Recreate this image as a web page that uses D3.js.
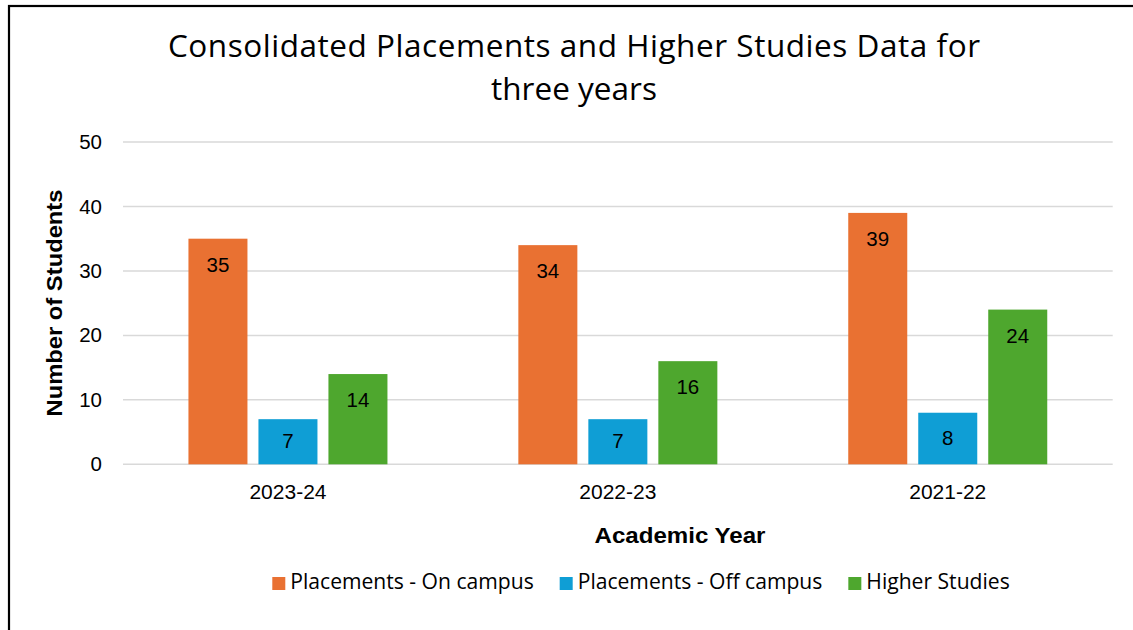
<!DOCTYPE html>
<html>
<head>
<meta charset="utf-8">
<script src="https://cdn.jsdelivr.net/npm/d3@7"></script>
<style>
  body { margin: 0; background: #fff; }
  svg text { fill: #000; }
</style>
</head>
<body>
<div id="chart"></div>
<script>
// data
let years = ["2023-24", "2022-23", "2021-22"];
let seriesNames = ["Placements - On campus", "Placements - Off campus", "Higher Studies"];
let onCampus = [35, 34, 39];
let offCampus = [7, 7, 8];
let higherStudies = [14, 16, 24];
let yTicks = [0, 10, 20, 30, 40, 50];
let colors = ["#E97132", "#0F9ED5", "#4EA72E"];

let seriesValues = [onCampus, offCampus, higherStudies];

var width = 1133, height = 630;
var plot = {left: 123, right: 1112.7, top: 142, bottom: 464.3};

var svg = d3.select("#chart")
  .append("svg")
    .attr("width", width)
    .attr("height", height);

// chart frame (runs off the right and bottom of the picture)
svg.append("rect")
  .attr("x", 9).attr("y", 6)
  .attr("width", 1140).attr("height", 640)
  .attr("fill", "none")
  .attr("stroke", "#000")
  .attr("stroke-width", 2.2);

// title
var title = svg.append("text")
  .attr("text-anchor", "middle")
  .style("font-family", "'Open Sans', sans-serif")
  .style("font-size", "31.5px");
title.append("tspan").attr("x", 574).attr("y", 57)
  .attr("textLength", 812).attr("lengthAdjust", "spacing")
  .text("Consolidated Placements and Higher Studies Data for");
title.append("tspan").attr("x", 574).attr("y", 100)
  .attr("textLength", 166).attr("lengthAdjust", "spacing")
  .text("three years");

var y = d3.scaleLinear()
  .domain([0, 50])
  .range([plot.bottom, plot.top]);

var x0 = d3.scaleBand()
  .domain(years)
  .range([plot.left, plot.right]);

var groupPad = (x0.bandwidth() - 199) / 2;
var x1 = d3.scaleBand()
  .domain(seriesNames)
  .range([groupPad, x0.bandwidth() - groupPad])
  .paddingInner(0.157);

// gridlines
svg.append("g")
  .selectAll("line")
  .data(yTicks)
  .enter()
  .append("line")
    .attr("x1", plot.left).attr("x2", plot.right)
    .attr("y1", function(d) { return y(d); })
    .attr("y2", function(d) { return y(d); })
    .attr("stroke", "#d9d9d9")
    .attr("stroke-width", 1.5);

// Y axis labels
var yAxis = svg.append("g")
  .attr("transform", "translate(" + (plot.left + 1) + ",0)")
  .call(d3.axisLeft(y).tickValues(yTicks).tickSize(0).tickPadding(22));
yAxis.select(".domain").remove();
yAxis.selectAll("text")
  .style("font-family", "'Liberation Sans', Arial, sans-serif")
  .style("font-size", "20.5px")
  .attr("fill", "#000");

// X axis labels
var xAxis = svg.append("g")
  .attr("transform", "translate(0," + plot.bottom + ")")
  .call(d3.axisBottom(x0).tickSize(0).tickPadding(20));
xAxis.select(".domain").remove();
xAxis.selectAll("text")
  .style("font-family", "'Liberation Sans', Arial, sans-serif")
  .style("font-size", "21px")
  .attr("fill", "#000");

// flatten for bars
var data = [];
years.forEach(function(yr, i) {
  seriesNames.forEach(function(s, j) {
    data.push({year: yr, series: s, value: seriesValues[j][i], color: colors[j]});
  });
});

// Bars
var groups = svg.selectAll(".bar")
  .data(data)
  .enter()
  .append("g")
    .attr("class", "bar")
    .attr("transform", function(d) { return "translate(" + (x0(d.year) + x1(d.series)) + ",0)"; });

groups.append("rect")
  .attr("y", function(d) { return y(d.value); })
  .attr("width", x1.bandwidth())
  .attr("height", function(d) { return plot.bottom - y(d.value); })
  .attr("fill", function(d) { return d.color; });

// value labels, inside end (centred when the bar is short)
groups.append("text")
  .attr("x", x1.bandwidth() / 2)
  .attr("y", function(d) {
    var top = y(d.value), mid = (top + plot.bottom) / 2;
    return Math.min(top + 33, mid + 6);
  })
  .attr("text-anchor", "middle")
  .style("font-family", "'Liberation Sans', Arial, sans-serif")
  .style("font-size", "20.5px")
  .text(function(d) { return d.value; });

// axis titles
svg.append("text")
  .attr("transform", "translate(62,303)rotate(-90)")
  .attr("text-anchor", "middle")
  .attr("textLength", 227).attr("lengthAdjust", "spacingAndGlyphs")
  .style("font-family", "'Liberation Sans', Arial, sans-serif")
  .style("font-size", "22px")
  .style("font-weight", "bold")
  .text("Number of Students");

svg.append("text")
  .attr("x", 680).attr("y", 543)
  .attr("text-anchor", "middle")
  .attr("textLength", 171).attr("lengthAdjust", "spacingAndGlyphs")
  .style("font-family", "'Liberation Sans', Arial, sans-serif")
  .style("font-size", "22px")
  .style("font-weight", "bold")
  .text("Academic Year");

// legend
var legend = svg.append("g");
var items = legend.selectAll("g")
  .data(seriesNames)
  .enter()
  .append("g");
items.append("rect")
  .attr("y", 577).attr("width", 13).attr("height", 13)
  .attr("fill", function(d, i) { return colors[i]; });
items.append("text")
  .attr("x", 18).attr("y", 589)
  .style("font-family", "'Open Sans', sans-serif")
  .style("font-size", "21.1px")
  .text(function(d) { return d; });

var cursor = 0, offsets = [];
items.each(function() {
  offsets.push(cursor);
  cursor += 18 + d3.select(this).select("text").node().getComputedTextLength() + 26;
});
var legendWidth = cursor - 26;
var legendStart = 641 - legendWidth / 2;
items.attr("transform", function(d, i) { return "translate(" + (legendStart + offsets[i]) + ",0)"; });
</script>
</body>
</html>
